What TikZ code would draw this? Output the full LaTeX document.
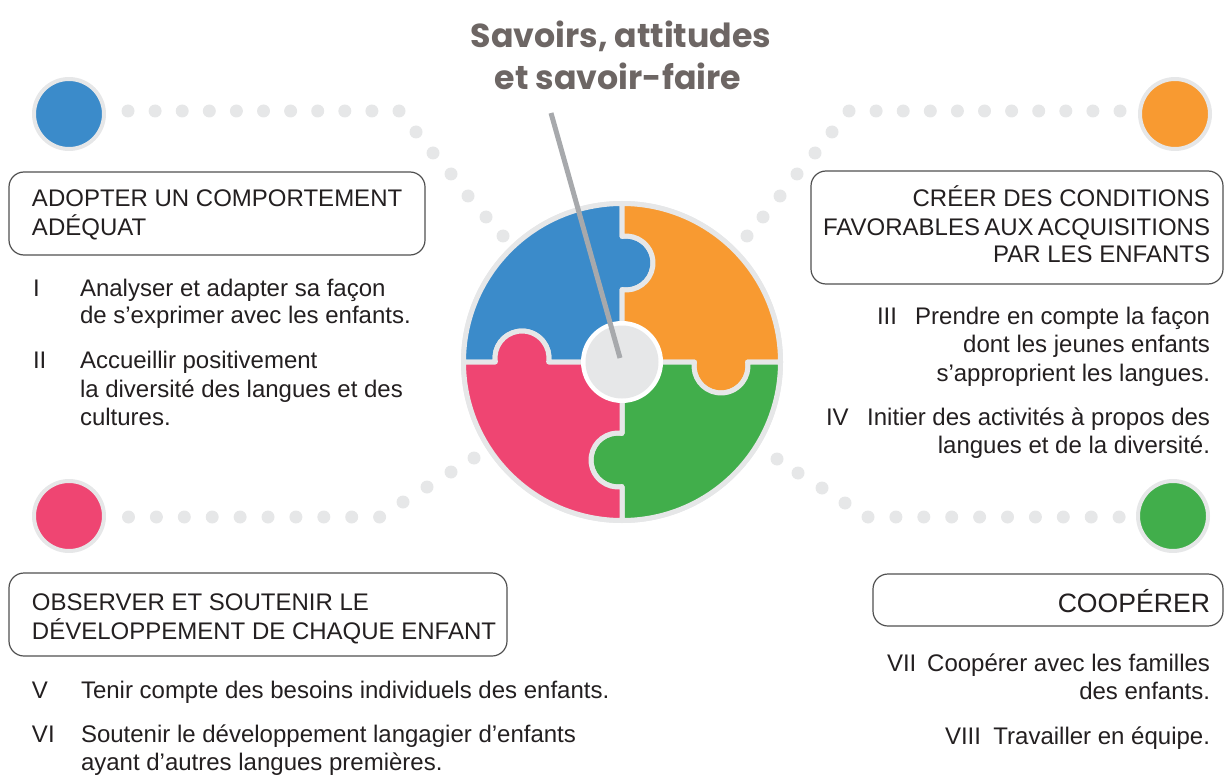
\documentclass[tikz,border=0pt]{standalone}
\usepackage{fontspec}
\setmainfont{Liberation Sans}
\newfontfamily\titlefont{Poppins}
\definecolor{pblue}{HTML}{3B8BCA}
\definecolor{porange}{HTML}{F89A31}
\definecolor{ppink}{HTML}{EF4572}
\definecolor{pgreen}{HTML}{41AE4B}
\definecolor{lgray}{HTML}{E6E7E8}
\definecolor{pointc}{HTML}{A7A9AC}
\definecolor{titlec}{HTML}{6D6664}
\definecolor{textc}{HTML}{231F20}
\definecolor{boxc}{HTML}{505050}
\begin{document}
\begin{tikzpicture}[x=0.5pt,y=-0.5pt,
  txt/.style={inner sep=0pt, outer sep=0pt, font=\fontsize{12pt}{14pt}\selectfont, text=textc},
  lt/.style={txt, anchor=base west},
  rt/.style={txt, anchor=base east},
  ttl/.style={inner sep=0pt, anchor=base, font=\titlefont\bfseries\fontsize{16.6pt}{20pt}\selectfont, text=titlec},
  boxframe/.style={draw=boxc, line width=0.6pt, rounded corners=7.5pt},
  bigdot/.style={circle, minimum size=35pt, inner sep=0pt, line width=2pt, draw=lgray},
  piece/.style={draw=lgray, line width=2.5pt, line join=round},
  pointer/.style={draw=pointc, line width=2.5pt}]
\useasboundingbox (0,0) rectangle (1225,775);

% dotted paths
\foreach \i in {0,...,10} \fill[lgray] ({128+27.1*\i},111) circle[radius=6.5];
\foreach \p in {(416,132),(433,153),(451,174),(468,196),(486,217),(503,236)} \fill[lgray] \p circle[radius=6.5];
\foreach \i in {0,...,10} \fill[lgray] ({849+27.1*\i},111) circle[radius=6.5];
\foreach \p in {(832,132),(815,153),(797,174),(780,196),(763,217),(747,236)} \fill[lgray] \p circle[radius=6.5];
\foreach \i in {0,...,9} \fill[lgray] ({128.5+27.9*\i},517) circle[radius=6.5];
\foreach \p in {(403,502),(427,487),(451,472),(474,458)} \fill[lgray] \p circle[radius=6.5];
\foreach \i in {0,...,9} \fill[lgray] ({868+27.9*\i},517) circle[radius=6.5];
\foreach \p in {(845,503),(822,488),(798,473),(777,459)} \fill[lgray] \p circle[radius=6.5];

% big coloured circles
\node[bigdot, fill=pblue] (cblue) at (69,114) {};
\node[bigdot, fill=porange] (corange) at (1175,114) {};
\node[bigdot, fill=ppink] (cpink) at (69,516) {};
\node[bigdot, fill=pgreen] (cgreen) at (1173,516) {};

% puzzle
\begin{scope}[shift={(622,362)}, x=0.5pt, y=0.5pt]
\fill[lgray] (0,0) circle[radius=161];
\filldraw[piece, fill=pblue] (0,0) -- (0,72.3) arc[start angle=-98.5, end angle=98.5, radius=27] -- (0,158.5) arc[start angle=90, end angle=180, radius=158.5] -- (-126.7,0) arc[start angle=188.5, end angle=-8.5, radius=27] -- cycle;
\filldraw[piece, fill=porange] (0,0) -- (0,72.3) arc[start angle=-98.5, end angle=98.5, radius=27] -- (0,158.5) arc[start angle=90, end angle=0, radius=158.5] -- (125.7,0) arc[start angle=8.5, end angle=-188.5, radius=27] -- cycle;
\filldraw[piece, fill=pgreen] (0,0) -- (72.3,0) arc[start angle=171.5, end angle=368.5, radius=27] -- (158.5,0) arc[start angle=0, end angle=-90, radius=158.5] -- (0,-124.7) arc[start angle=-81.5, end angle=-278.5, radius=27] -- cycle;
\filldraw[piece, fill=ppink] (0,0) -- (0,-71.3) arc[start angle=81.5, end angle=278.5, radius=27] -- (0,-158.5) arc[start angle=-90, end angle=-180, radius=158.5] -- (-126.7,0) arc[start angle=188.5, end angle=-8.5, radius=27] -- cycle;
\end{scope}
\node[circle, fill=white, minimum size=41pt, inner sep=0pt] (hub) at (622,362) {};
\node[circle, fill=lgray, minimum size=36.5pt, inner sep=0pt] (hubin) at (hub) {};

% title and pointer
\node[ttl] (title1) at (621,48) {Savoirs, attitudes};
\node[ttl] (title2) at (618,90) {et savoir-faire};
\coordinate (ptop) at (551,113);
\coordinate (ptip) at (620,358);
\draw[pointer] (ptop) -- (ptip);

% box 1
\draw[boxframe] (9,172) rectangle (425,255);
\node[lt] (b1a) at (32,207) {ADOPTER UN COMPORTEMENT};
\node[lt] (b1b) at (32,235) {ADÉQUAT};
\node[lt] (n1) at (33,296) {I};
\node[lt] (t1a) at (80,296) {Analyser et adapter sa façon};
\node[lt] (t1b) at (80,323) {de s’exprimer avec les enfants.};
\node[lt] (n2) at (33,368) {II};
\node[lt] (t2a) at (80,368) {Accueillir positivement};
\node[lt] (t2b) at (80,397) {la diversité des langues et des};
\node[lt] (t2c) at (80,425) {cultures.};

% box 2
\draw[boxframe] (811,171) rectangle (1223,284);
\node[rt] (b2a) at (1210,207) {CRÉER DES CONDITIONS};
\node[rt] (b2b) at (1210,235) {FAVORABLES\hspace{0.18em}AUX\hspace{0.18em}ACQUISITIONS};
\node[rt] (b2c) at (1210,263) {PAR LES ENFANTS};
\node[lt] (n3) at (877,324) {III};
\node[rt] (t3a) at (1210,324) {Prendre en compte la façon};
\node[rt] (t3b) at (1210,352) {dont les jeunes enfants};
\node[rt] (t3c) at (1210,381) {s’approprient les langues.};
\node[lt] (n4) at (826,425) {IV};
\node[rt] (t4a) at (1210,425) {Initier des activités à propos des};
\node[rt] (t4b) at (1210,453) {langues et de la diversité.};

% box 3
\draw[boxframe] (9,573) rectangle (507,656);
\node[lt] (b3a) at (32,610) {OBSERVER ET SOUTENIR LE};
\node[lt] (b3b) at (32,639) {DÉVELOPPEMENT DE CHAQUE ENFANT};
\node[lt] (n5) at (32,698) {V};
\node[lt] (t5a) at (81,698) {Tenir compte des besoins individuels des enfants.};
\node[lt] (n6) at (32,742) {VI};
\node[lt] (t6a) at (81,742) {Soutenir le développement langagier d’enfants};
\node[lt] (t6b) at (81,770) {ayant d’autres langues premières.};

% box 4
\draw[boxframe] (873,574) rectangle (1223,626);
\node[rt, font=\fontsize{13.3pt}{15pt}\selectfont] (b4a) at (1210,612) {COOPÉRER};
\node[lt] (n7) at (887,671) {VII};
\node[rt] (t7a) at (1210,671) {Coopérer avec les familles};
\node[rt] (t7b) at (1210,699) {des enfants.};
\node[lt] (n8) at (945,744) {VIII};
\node[rt] (t8a) at (1210,744) {Travailler en équipe.};
\end{tikzpicture}
\end{document}
